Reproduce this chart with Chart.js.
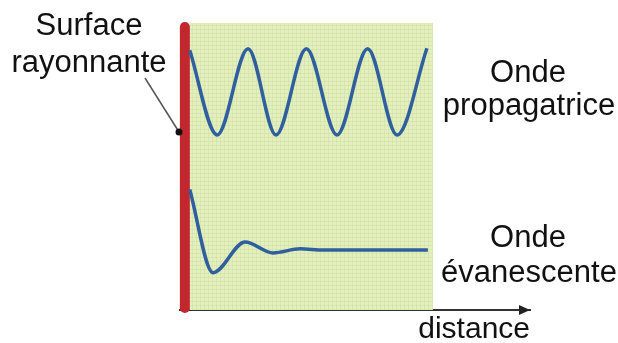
<!DOCTYPE html>
<html>
<head>
<meta charset="utf-8">
<script src="https://cdn.jsdelivr.net/npm/chart.js@4.4.0/dist/chart.umd.min.js"></script>
<style>
  html, body { margin: 0; padding: 0; background: #fff; }
  #wrap { width: 618px; height: 343px; }
</style>
</head>
<body>
<div id="wrap"><canvas id="waveChart"></canvas></div>
<script>
// distance (0-100 across the green box) and amplitude (0-100 bottom to top)
const propX = [0, 11.3, 24, 35.5, 48, 60.6, 73.2, 85.3, 97.6];
const propY = [90.5, 61, 91, 61, 91, 61, 91, 61, 91.2];
const evaX = [0, 9.6, 22.8, 34.3, 45.4, 55, 98];
const evaY = [42, 13, 23.7, 19.9, 21.3, 20.9, 20.9];
const surfaceX = [-2, -2];
const surfaceY = [0.7, 98.6];
const labels = ['Surface', 'rayonnante', 'Onde', 'propagatrice', 'Onde', 'évanescente'];

const FONT = '31px "Liberation Sans", Arial, sans-serif';

const toPoints = (xs, ys) => xs.map((x, i) => ({ x: x, y: ys[i] }));

// green box behind the waves, arrow on the axis, and the text labels
const decor = {
  id: 'decor',
  beforeDatasetsDraw(chart) {
    const ctx = chart.ctx;
    const xs = chart.scales.x, ys = chart.scales.y;
    const left = xs.getPixelForValue(0), right = xs.getPixelForValue(100);
    const top = ys.getPixelForValue(100), bottom = ys.getPixelForValue(0);
    ctx.save();
    ctx.fillStyle = '#e4efbf';
    ctx.fillRect(left, top, right - left, bottom - top);
    // faint grid texture
    ctx.strokeStyle = 'rgba(200, 222, 150, 0.45)';
    ctx.lineWidth = 1;
    for (let x = left + 2; x < right; x += 4) {
      ctx.beginPath(); ctx.moveTo(Math.round(x) + 0.5, top); ctx.lineTo(Math.round(x) + 0.5, bottom); ctx.stroke();
    }
    for (let y = top + 2; y < bottom; y += 4) {
      ctx.beginPath(); ctx.moveTo(left, Math.round(y) + 0.5); ctx.lineTo(right, Math.round(y) + 0.5); ctx.stroke();
    }
    ctx.restore();
  },
  afterDraw(chart) {
    const ctx = chart.ctx;
    const area = chart.chartArea;
    ctx.save();
    // arrow head at the end of the distance axis
    ctx.fillStyle = '#222';
    ctx.beginPath();
    ctx.moveTo(area.right, area.bottom);
    ctx.lineTo(area.right - 11, area.bottom - 5);
    ctx.lineTo(area.right - 11, area.bottom + 5);
    ctx.closePath();
    ctx.fill();

    // leader line from the label to the surface
    ctx.strokeStyle = '#555';
    ctx.lineWidth = 1.5;
    ctx.beginPath();
    ctx.moveTo(145, 78);
    ctx.lineTo(179, 132);
    ctx.stroke();
    ctx.fillStyle = '#111';
    ctx.beginPath();
    ctx.arc(179, 132, 3.5, 0, Math.PI * 2);
    ctx.fill();

    ctx.font = FONT;
    ctx.fillStyle = '#111';
    ctx.textAlign = 'center';
    ctx.textBaseline = 'alphabetic';
    ctx.fillText(labels[0], 89, 35);
    ctx.fillText(labels[1], 89, 72);
    ctx.fillText(labels[2], 528, 82);
    ctx.fillText(labels[3], 529, 115);
    ctx.fillText(labels[4], 528, 247);
    ctx.fillText(labels[5], 529, 282);
    ctx.restore();
  }
};

const ctx = document.getElementById('waveChart').getContext('2d');
const waveChart = new Chart(ctx, {
  type: 'line',
  data: {
    datasets: [
      {
        label: 'Onde propagatrice',
        data: toPoints(propX, propY),
        borderColor: '#2f5f9f',
        borderWidth: 3.5,
        cubicInterpolationMode: 'monotone',
        pointRadius: 0
      },
      {
        label: 'Onde évanescente',
        data: toPoints(evaX, evaY),
        borderColor: '#2f5f9f',
        borderWidth: 3.5,
        cubicInterpolationMode: 'monotone',
        pointRadius: 0
      },
      {
        label: 'Surface rayonnante',
        data: toPoints(surfaceX, surfaceY),
        borderColor: '#c1272d',
        borderWidth: 10,
        borderCapStyle: 'round',
        pointRadius: 0
      }
    ]
  },
  options: {
    responsive: true,
    maintainAspectRatio: false,
    animation: false,
    clip: false,
    layout: { padding: { left: 180, right: 88, top: 23, bottom: 0 } },
    plugins: {
      legend: { display: false },
      tooltip: { enabled: false }
    },
    scales: {
      x: {
        type: 'linear',
        min: -4,
        max: 140,
        grid: { display: false, drawTicks: false },
        ticks: { display: false, padding: 0 },
        border: { display: true, color: '#333', width: 2 },
        title: {
          display: true,
          text: 'distance',
          align: 'end',
          color: '#111',
          font: { family: '"Liberation Sans", Arial, sans-serif', size: 30, lineHeight: 1 },
          padding: { top: 0, bottom: -2 }
        },
        afterFit(scale) {
          scale.height = 33; // axis sits at y=310
        }
      },
      y: {
        display: false,
        min: 0,
        max: 100
      }
    }
  },
  plugins: [decor]
});
</script>
</body>
</html>
